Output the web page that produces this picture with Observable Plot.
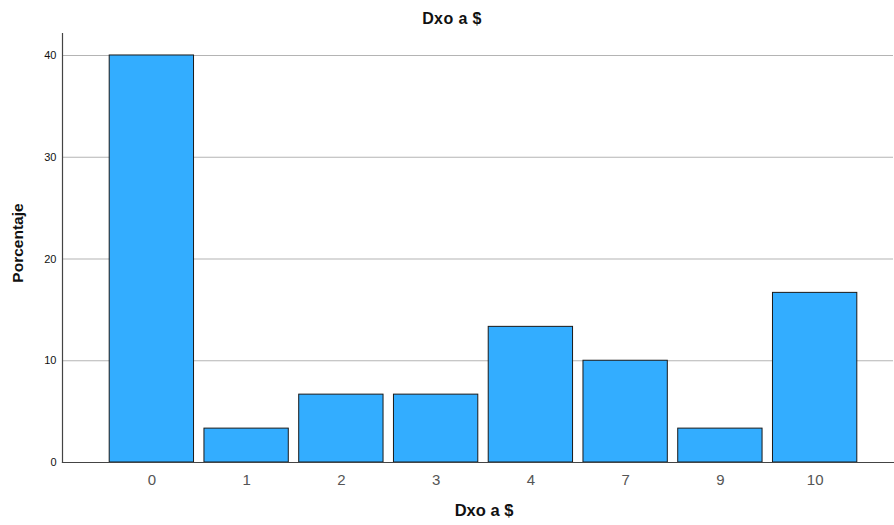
<!DOCTYPE html>
<html>
<head>
<meta charset="utf-8">
<script src="https://cdn.jsdelivr.net/npm/d3@7"></script>
<script src="https://cdn.jsdelivr.net/npm/@observablehq/plot@0.6"></script>
<style>
  body { margin: 0; background: #fff; font-family: Arial, "Liberation Sans", sans-serif; }
  #title { width: 894px; height: 30px; text-align: center; font-weight: bold; font-size: 16px; letter-spacing: 0.4px; line-height: 38px; color: #111; padding-left: 10px; box-sizing: border-box; }
  svg { display: block; }
</style>
</head>
<body>
<div id="title">Dxo a $</div>
<div id="chart"></div>
<script>
const categories = ["0", "1", "2", "3", "4", "7", "9", "10"];
const percentages = [40.0, 3.33, 6.67, 6.67, 13.33, 10.0, 3.33, 16.67];
const yTicks = [0, 10, 20, 30, 40];

const data = categories.map((c, i) => ({cat: c, pct: percentages[i]}));

const chart = Plot.plot({
  width: 894,
  height: 495,
  marginTop: 3,
  marginBottom: 63,
  marginLeft: 62,
  marginRight: 1,
  style: { fontFamily: "Arial, 'Liberation Sans', sans-serif", background: "#fff", overflow: "visible" },
  x: { domain: categories, paddingInner: 0.11, paddingOuter: 0.44, align: 0.566, round: false, label: null },
  y: { domain: [0, 42.16], label: null },
  marks: [
    Plot.ruleY(yTicks.filter(d => d > 0), { stroke: "#b4b4b4", strokeWidth: 1.2 }),
    Plot.barY(data, { x: "cat", y: "pct", fill: "#33adff", stroke: "#1a1a1a", strokeWidth: 1 }),
    Plot.axisY({ ticks: yTicks, tickSize: 0, tickPadding: 6, fontSize: 11, color: "#111", label: null }),
    Plot.axisX({ tickSize: 0, tickPadding: 12, fontSize: 15, color: "#555", label: null }),
    Plot.frame({ anchor: "left", stroke: "#444", strokeWidth: 1.2 }),
    Plot.frame({ anchor: "bottom", stroke: "#444", strokeWidth: 1.2 }),
    Plot.text(["Dxo a $"], { frameAnchor: "bottom", dy: 53, dx: 6, fontSize: 16.5, fontWeight: "bold", fill: "#111" }),
    Plot.text(["Porcentaje"], { frameAnchor: "left", textAnchor: "middle", dx: -44, dy: -5, rotate: -90, fontSize: 15.5, fontWeight: "bold", fill: "#111" })
  ]
});
document.getElementById("chart").appendChild(chart);
</script>
</body>
</html>
